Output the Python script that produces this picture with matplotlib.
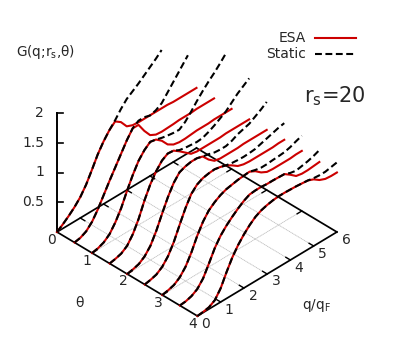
import numpy as np
import matplotlib
matplotlib.use("Agg")
import matplotlib.pyplot as plt

plt.rcParams['mathtext.fontset'] = 'dejavusans'

q_grid = np.arange(0, 6.01, 0.25)
theta_values = [0, 0.5, 1, 1.5, 2, 2.5, 3, 3.5, 4]
nan = float('nan')

esa_0 = [0,.07,.15,.24,.35,.5,.69,.89,1.05,1.18,1.27,1.2,1.07,1.03,1.02,1.02,1.02,1.02,1.02,1.02,1.01,1.01,1.01,1.01,1.01]
sta_0 = [0,.07,.15,.24,.35,.5,.69,.89,1.05,1.18,1.29,1.42,1.53,1.6,1.67,1.75,1.83,1.91,2.0,nan,nan,nan,nan,nan,nan]
esa_1 = [0,.02,.07,.17,.32,.5,.68,.85,1.02,1.19,1.33,1.33,1.17,1.04,.99,.98,.985,.99,1.0,1.0,1.0,1.01,1.01,1.01,1.01]
sta_1 = [0,.02,.07,.17,.32,.5,.68,.85,1.02,1.19,1.33,1.4,1.4,1.37,1.40,1.46,1.58,1.70,1.82,1.94,2.06,nan,nan,nan,nan]
esa_2 = [0,.02,.06,.14,.28,.46,.69,.9,1.08,1.2,1.28,1.26,1.18,1.06,1.0,.98,.98,.99,1.0,1.0,1.0,1.01,1.01,1.01,1.01]
sta_2 = [0,.02,.06,.14,.28,.46,.69,.9,1.08,1.2,1.28,1.26,1.23,1.21,1.195,1.19,1.26,1.37,1.49,1.6,1.7,1.79,1.89,2.0,nan]
esa_3 = [0,.02,.05,.12,.26,.46,.71,.92,1.08,1.2,1.26,1.25,1.18,1.1,1.02,1.0,1.0,1.0,1.0,1.0,1.01,1.01,1.01,1.01,1.01]
sta_3 = [0,.02,.05,.12,.26,.46,.71,.92,1.08,1.2,1.26,1.25,1.2,1.18,1.17,1.16,1.17,1.21,1.26,1.32,1.38,1.47,1.56,1.63,1.7]
esa_4 = [0,.02,.05,.12,.24,.43,.66,.88,1.06,1.18,1.22,1.24,1.24,1.21,1.1,1.02,1.0,1.0,1.0,1.0,1.01,1.01,1.01,1.01,1.01]
sta_4 = [0,.02,.05,.12,.24,.43,.66,.88,1.06,1.18,1.22,1.24,1.24,1.21,1.19,1.16,1.15,1.15,1.18,1.23,1.26,1.29,1.35,1.41,1.48]
esa_5 = [0,.02,.05,.12,.24,.42,.65,.87,1.05,1.15,1.2,1.22,1.23,1.21,1.18,1.12,1.05,1.02,1.01,1.01,1.01,1.01,1.01,1.02,1.02]
sta_5 = [0,.02,.05,.12,.24,.42,.65,.87,1.05,1.15,1.2,1.22,1.23,1.21,1.18,1.16,1.15,1.145,1.15,1.16,1.19,1.22,1.25,1.28,1.30]
esa_6 = [0,.02,.05,.12,.24,.42,.64,.82,.95,1.03,1.09,1.13,1.15,1.17,1.18,1.19,1.14,1.06,1.01,1.0,1.0,1.0,1.0,1.01,1.01]
sta_6 = [0,.02,.05,.12,.24,.42,.64,.82,.95,1.03,1.09,1.13,1.15,1.17,1.18,1.19,1.16,1.14,1.14,1.15,1.155,1.165,1.19,1.23,1.265]
esa_7 = [0,.01,.04,.1,.22,.41,.61,.76,.87,.96,1.04,1.11,1.16,1.17,1.17,1.16,1.16,1.155,1.15,1.08,1.0,.98,.98,.99,1.0]
sta_7 = [0,.01,.04,.1,.22,.41,.61,.76,.87,.96,1.04,1.11,1.16,1.17,1.17,1.16,1.16,1.155,1.15,1.11,1.09,1.11,1.13,1.16,1.2]
esa_8 = [0,.01,.03,.09,.23,.44,.63,.78,.9,1.0,1.08,1.13,1.16,1.18,1.19,1.19,1.185,1.18,1.17,1.16,1.12,1.05,1.01,1.0,1.0]
sta_8 = [0,.01,.03,.09,.23,.44,.63,.78,.9,1.0,1.08,1.13,1.16,1.18,1.19,1.19,1.185,1.18,1.17,1.16,1.14,1.13,1.13,1.15,1.17]
esa_curves = [esa_0, esa_1, esa_2, esa_3, esa_4, esa_5, esa_6, esa_7, esa_8]
static_curves = [sta_0, sta_1, sta_2, sta_3, sta_4, sta_5, sta_6, sta_7, sta_8]

z_ticks = [0.5, 1, 1.5, 2]
z_tick_labels = ['0.5', '1', '1.5', '2']
theta_ticks = [0, 1, 2, 3, 4]
q_ticks = [0, 1, 2, 3, 4, 5, 6]


def project(theta, q, z=0.0):
    """Orthographic view of (theta, q, G) onto the page."""
    theta, q, z = np.asarray(theta, float), np.asarray(q, float), np.asarray(z, float)
    return 57 + 35.1 * theta + 23.25 * q, 232 + 21 * theta - 14 * q - 59.5 * z


def clip_top(q, z, zmax=2.0):
    q, z = np.asarray(q, float), np.asarray(z, float)
    ok = ~np.isnan(z)
    q, z = q[ok], z[ok]
    if z.max() > zmax:
        i = int(np.argmax(z > zmax))
        qc = q[i-1] + (zmax - z[i-1]) / (z[i] - z[i-1]) * (q[i] - q[i-1])
        q = np.r_[q[:i], qc]
        z = np.r_[z[:i], zmax]
    return q, z


fig = plt.figure(figsize=(3.95, 3.6), dpi=100)
ax = fig.add_axes([0, 0, 1, 1])
ax.set_xlim(0, 395)
ax.set_ylim(360, 0)
ax.axis('off')

RED = '#cc0000'
TXT = '#262626'
GRID = '#bdbdbd'
AX = dict(color='black', lw=1.25, solid_capstyle='projecting', zorder=3)

for t in theta_ticks[1:-1]:
    ax.plot(*project([t, t], [0, 6]), color=GRID, lw=0.6, ls=(0, (1.5, 0.6)), zorder=1)
for q in q_ticks[1:-1]:
    ax.plot(*project([0, 4], [q, q]), color=GRID, lw=0.6, ls=(0, (1.5, 0.6)), zorder=1)

for a, b in [((0, 0), (4, 0)), ((4, 0), (4, 6)), ((4, 6), (0, 6)), ((0, 6), (0, 0))]:
    ax.plot(*project([a[0], b[0]], [a[1], b[1]]), **AX)
x0, y0 = project(0, 0, 0)
x2, y2 = project(0, 0, 2)
ax.plot([x0, x2], [y0, y2], color='black', lw=1.4, zorder=3)
for z in z_ticks:
    xt, yt = project(0, 0, z)
    ax.plot([xt, xt + 6], [yt, yt], color='black', lw=1.2, zorder=3)

for q in q_ticks[1:-1]:
    ax.plot(*project([4, 3.87], [q, q]), color='black', lw=1.0, zorder=3)
    ax.plot(*project([0, 0.13], [q, q]), color='black', lw=1.0, zorder=3)
for t in theta_ticks[1:-1]:
    ax.plot(*project([t, t], [0, 0.2]), color='black', lw=1.0, zorder=3)
    ax.plot(*project([t, t], [6, 5.8]), color='black', lw=1.0, zorder=3)

for i, (t, esa, sta) in enumerate(zip(theta_values, esa_curves, static_curves)):
    qs, zs = clip_top(q_grid, sta)
    ax.plot(*project(t, q_grid, np.array(esa)), color=RED, lw=1.5, zorder=4 + 0.1 * i,
            solid_joinstyle='round')
    ax.plot(*project(t, qs, zs), color='black', lw=1.5, ls=(0, (3.3, 1.7)), zorder=4.05 + 0.1 * i)

FS = 10
for z, lab in zip(z_ticks, z_tick_labels):
    ax.text(44, project(0, 0, z)[1], lab, ha='right', va='center', fontsize=FS, color=TXT)
theta_lab_pos = [(52, 240), (87, 261), (123, 281), (158, 303), (193, 324)]
for t, (x, y) in zip(theta_ticks, theta_lab_pos):
    ax.text(x, y, str(t), ha='center', va='center', fontsize=FS, color=TXT)
q_lab_pos = [(206, 324), (229, 310), (253, 296), (276, 281), (299, 268), (322, 254), (346, 240)]
for q, (x, y) in zip(q_ticks, q_lab_pos):
    ax.text(x, y, str(q), ha='center', va='center', fontsize=FS, color=TXT)
ax.text(16, 52, r'G(q;r$_{\mathrm{s}}$,θ)', ha='left', va='center', fontsize=9.8, color=TXT)
ax.text(79, 303, 'θ', ha='center', va='center', fontsize=FS, color=TXT)
ax.text(302, 305, r'q/q$_{\mathrm{F}}$', ha='left', va='center', fontsize=9.8, color=TXT)
ax.text(304, 96, r'r$_{\mathrm{s}}$=20', ha='left', va='center', fontsize=15, color=TXT)

ax.text(306, 38, 'ESA', ha='right', va='center', fontsize=FS, color=TXT)
ax.text(306, 54, 'Static', ha='right', va='center', fontsize=FS, color=TXT)
ax.plot([315, 356], [38, 38], color=RED, lw=1.5)
ax.plot([315, 356], [54, 54], color='black', lw=1.5, ls=(0, (3.3, 1.7)))

fig.savefig('out.png', dpi=100)
